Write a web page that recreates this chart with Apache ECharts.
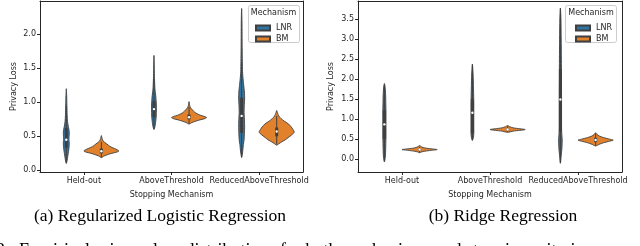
<!DOCTYPE html>
<html><head><meta charset="utf-8">
<script src="https://cdn.jsdelivr.net/npm/echarts@6/dist/echarts.min.js"></script>
<style>html,body{margin:0;padding:0;background:#fff}#c{width:640px;height:246px}</style>
</head><body><div id="c"></div>
<script>
// ---------- data ----------
const categories = ['Held-out', 'AboveThreshold', 'ReducedAboveThreshold'];
const mechanisms = ['LNR', 'BM'];
const yTicksA = [0.0, 0.5, 1.0, 1.5, 2.0];
const yTicksB = [0.0, 0.5, 1.0, 1.5, 2.0, 2.5, 3.0, 3.5];
const yRangeA = [-0.025, 2.49];
const yRangeB = [-0.32, 3.95];

// violin outlines: [privacy loss, relative density width]
const lnrProfileA = [
  [[1.20,0],[1.10,0.02],[1.0,0.03],[0.9,0.04],[0.8,0.05],[0.72,0.07],[0.65,0.11],[0.6,0.15],[0.55,0.17],[0.5,0.16],[0.45,0.15],[0.4,0.17],[0.35,0.16],[0.3,0.14],[0.25,0.11],[0.2,0.08],[0.15,0.05],[0.10,0]],
  [[1.69,0],[1.5,0.02],[1.35,0.03],[1.25,0.045],[1.18,0.06],[1.1,0.1],[1.0,0.13],[0.92,0.14],[0.85,0.135],[0.78,0.125],[0.72,0.1],[0.66,0.07],[0.6,0]],
  [[2.38,0],[2.2,0.02],[2.0,0.025],[1.8,0.03],[1.6,0.04],[1.45,0.05],[1.35,0.08],[1.25,0.12],[1.15,0.16],[1.05,0.17],[0.95,0.15],[0.85,0.14],[0.75,0.16],[0.65,0.17],[0.55,0.16],[0.45,0.14],[0.38,0.1],[0.3,0.07],[0.24,0.04],[0.19,0]]
];
const bmProfileA = [
  [[0.51,0],[0.47,0.04],[0.43,0.1],[0.39,0.3],[0.35,0.5],[0.32,0.75],[0.30,0.92],[0.284,1.0],[0.27,0.9],[0.25,0.6],[0.23,0.35],[0.21,0.15],[0.187,0]],
  [[1.01,0],[0.97,0.03],[0.93,0.06],[0.9,0.15],[0.87,0.26],[0.84,0.4],[0.81,0.65],[0.79,0.9],[0.775,1.0],[0.76,0.9],[0.74,0.6],[0.72,0.35],[0.70,0.15],[0.68,0]],
  [[0.88,0],[0.84,0.05],[0.80,0.12],[0.76,0.25],[0.72,0.45],[0.68,0.68],[0.64,0.82],[0.60,0.93],[0.56,1.0],[0.52,0.85],[0.48,0.65],[0.45,0.5],[0.42,0.3],[0.39,0.12],[0.37,0]]
];
const lnrProfileB = [
  [[1.89,0],[1.8,0.04],[1.6,0.07],[1.4,0.08],[1.2,0.09],[1.0,0.09],[0.8,0.09],[0.6,0.09],[0.4,0.08],[0.2,0.07],[0.05,0.05],[-0.07,0]],
  [[2.37,0],[2.2,0.03],[2.0,0.05],[1.8,0.06],[1.6,0.07],[1.4,0.08],[1.2,0.08],[1.0,0.08],[0.8,0.08],[0.65,0.08],[0.55,0.06],[0.47,0]],
  [[3.77,0],[3.5,0.03],[3.0,0.045],[2.5,0.055],[2.0,0.06],[1.5,0.065],[1.0,0.065],[0.7,0.07],[0.5,0.1],[0.3,0.09],[0.1,0.05],[-0.1,0]]
];
const bmProfileB = [
  [[0.34,0],[0.31,0.1],[0.28,0.3],[0.26,0.65],[0.24,1.0],[0.22,0.65],[0.20,0.3],[0.18,0.1],[0.16,0]],
  [[0.84,0],[0.81,0.12],[0.78,0.35],[0.76,0.7],[0.74,1.0],[0.72,0.7],[0.70,0.3],[0.67,0]],
  [[0.66,0],[0.62,0.08],[0.58,0.2],[0.54,0.45],[0.5,0.8],[0.475,1.0],[0.45,0.8],[0.41,0.45],[0.37,0.2],[0.33,0]]
];
// inner boxes: [whisker low, q1, median, q3, whisker high]
const lnrBoxA = [[0.12,0.33,0.45,0.62,0.95],[0.62,0.78,0.90,1.02,1.35],[0.19,0.55,0.80,1.07,1.60]];
const bmBoxA  = [[0.19,0.25,0.28,0.32,0.42],[0.69,0.75,0.78,0.82,0.93],[0.38,0.50,0.57,0.63,0.80]];
const lnrBoxB = [[-0.05,0.50,0.87,1.22,1.85],[0.47,0.65,1.16,1.50,2.37],[-0.10,0.68,1.49,2.25,3.77]];
const bmBoxB  = [[0.17,0.22,0.24,0.26,0.31],[0.68,0.72,0.74,0.76,0.82],[0.34,0.43,0.48,0.53,0.64]];

// ---------- drawing ----------
const COLORS = {LNR: '#3274a1', BM: '#e1812c'};
const EDGE = '#3f3f3f';
const TXT = '#262626';
const FONT = 'DejaVu Sans';

function violinRenderer(profiles, boxes, side, color) {
  return function (params, api) {
    const i = params.dataIndex;
    const cat = api.value(0);
    const band = api.size([1, 0])[0];
    const cx = api.coord([cat, 0])[0] + side * 0.2 * band;
    const half = 0.2 * band;
    const left = [], right = [];
    profiles[i].forEach(function (p) {
      const y = api.coord([cat, p[0]])[1];
      left.push([cx - p[1] * half, y]);
      if (p[1] > 0) right.unshift([cx + p[1] * half, y]);
    });
    const b = boxes[i].map(function (v) { return api.coord([cat, v])[1]; });
    return {
      type: 'group',
      children: [
        {type: 'polygon', shape: {points: left.concat(right), smooth: 0.25},
         style: {fill: color, stroke: EDGE, lineWidth: 0.9}},
        {type: 'line', shape: {x1: cx, y1: b[0], x2: cx, y2: b[4]},
         style: {stroke: EDGE, lineWidth: 1}},
        {type: 'rect', shape: {x: cx - 1.5, y: b[3], width: 3, height: b[1] - b[3]},
         style: {fill: EDGE}},
        {type: 'circle', shape: {cx: cx, cy: b[2], r: 1.2}, style: {fill: '#fff'}}
      ]
    };
  };
}

function seriesFor(name, idx, profiles, boxes, side) {
  return {
    type: 'custom', name: name, xAxisIndex: idx, yAxisIndex: idx,
    itemStyle: {color: COLORS[name], borderColor: EDGE, borderWidth: 0.8},
    data: boxes.map(function (b, k) { return [k, b[2]]; }),
    renderItem: violinRenderer(profiles, boxes, side, COLORS[name]),
    silent: true, animation: false
  };
}

function xAxisFor(idx) {
  return {
    type: 'category', gridIndex: idx, data: categories, boundaryGap: true, position: 'bottom',
    axisLine: {show: true, onZero: false, lineStyle: {color: TXT, width: 1}},
    axisTick: {show: true, alignWithLabel: true, length: 3, lineStyle: {color: TXT}},
    axisLabel: {interval: 0, fontSize: 8, color: TXT, fontFamily: FONT, margin: 5, hideOverlap: false},
    splitLine: {show: false},
    name: 'Stopping Mechanism', nameLocation: 'middle', nameGap: 19,
    nameTextStyle: {fontSize: 8, color: TXT, fontFamily: FONT}
  };
}
function xFrameFor(idx) {
  return {
    type: 'category', gridIndex: idx, data: categories, position: 'top',
    axisLine: {show: true, onZero: false, lineStyle: {color: TXT, width: 1}},
    axisTick: {show: false}, axisLabel: {show: false}, splitLine: {show: false}
  };
}
function yAxisFor(idx, range, ticks, gap) {
  return {
    type: 'value', gridIndex: idx, min: range[0], max: range[1], position: 'left',
    axisLine: {show: true, onZero: false, lineStyle: {color: TXT, width: 1}},
    axisTick: {show: true, length: 3, customValues: ticks, lineStyle: {color: TXT}},
    axisLabel: {customValues: ticks, fontSize: 8, color: TXT, fontFamily: FONT, margin: 4,
                formatter: function (v) { return (+v).toFixed(1); }},
    splitLine: {show: false},
    name: 'Privacy Loss', nameLocation: 'middle', nameRotate: 90, nameGap: gap,
    nameTextStyle: {fontSize: 8, color: TXT, fontFamily: FONT}
  };
}
function yFrameFor(idx, range) {
  return {
    type: 'value', gridIndex: idx, min: range[0], max: range[1], position: 'right',
    axisLine: {show: true, onZero: false, lineStyle: {color: TXT, width: 1}},
    axisTick: {show: false}, axisLabel: {show: false}, splitLine: {show: false}
  };
}
function legendFor(left, top) {
  return {
    data: mechanisms, orient: 'vertical', left: left, top: top,
    itemWidth: 14, itemHeight: 5, itemGap: 1, icon: 'rect',
    textStyle: {fontSize: 8, color: TXT, fontFamily: FONT, lineHeight: 10, padding: [0, 0, 0, 1]},
    selectedMode: false, z: 20
  };
}

const chart = echarts.init(document.getElementById('c'), null, {renderer: 'canvas'});
chart.setOption({
  animation: false,
  backgroundColor: '#fff',
  grid: [
    {left: 40, right: 337, top: 1, bottom: 74, containLabel: false, outerBoundsMode: 'none'},
    {left: 358, right: 18, top: 1, bottom: 74, containLabel: false, outerBoundsMode: 'none'}
  ],
  xAxis: [xAxisFor(0), xAxisFor(1), xFrameFor(0), xFrameFor(1)],
  yAxis: [yAxisFor(0, yRangeA, yTicksA, 22), yAxisFor(1, yRangeB, yTicksB, 23),
          yFrameFor(0, yRangeA), yFrameFor(1, yRangeB)],
  legend: [legendFor(250, 18), legendFor(570, 18)],
  series: [
    seriesFor('LNR', 0, lnrProfileA, lnrBoxA, -1),
    seriesFor('BM', 0, bmProfileA, bmBoxA, 1),
    seriesFor('LNR', 1, lnrProfileB, lnrBoxB, -1),
    seriesFor('BM', 1, bmProfileB, bmBoxB, 1)
  ],
  graphic: [
    {type: 'rect', z: 10, shape: {x: 248.5, y: 5.5, width: 51, height: 37, r: 2},
     style: {fill: 'rgba(255,255,255,0.85)', stroke: '#cccccc', lineWidth: 1}},
    {type: 'text', z: 11, x: 273.5, y: 12.5,
     style: {text: 'Mechanism', fontSize: 8, fill: TXT, fontFamily: FONT, align: 'center', verticalAlign: 'middle'}},
    {type: 'rect', z: 10, shape: {x: 565.5, y: 5.5, width: 51, height: 37, r: 2},
     style: {fill: 'rgba(255,255,255,0.85)', stroke: '#cccccc', lineWidth: 1}},
    {type: 'text', z: 11, x: 591, y: 12.5,
     style: {text: 'Mechanism', fontSize: 8, fill: TXT, fontFamily: FONT, align: 'center', verticalAlign: 'middle'}},
    {type: 'text', x: 160, y: 216,
     style: {text: '(a) Regularized Logistic Regression', fontSize: 17.5, fill: '#000',
             fontFamily: 'Liberation Serif', align: 'center', verticalAlign: 'middle'}},
    {type: 'text', x: 503, y: 216,
     style: {text: '(b) Ridge Regression', fontSize: 17.5, fill: '#000',
             fontFamily: 'Liberation Serif', align: 'center', verticalAlign: 'middle'}},
    {type: 'text', x: -4, y: 251,
     style: {text: '3:  Empirical privacy loss distributions for both mechanisms and stopping criteria', fontSize: 18, fill: '#000',
             fontFamily: 'Liberation Serif', align: 'left', verticalAlign: 'middle'}}
  ]
});
</script>
</body></html>
